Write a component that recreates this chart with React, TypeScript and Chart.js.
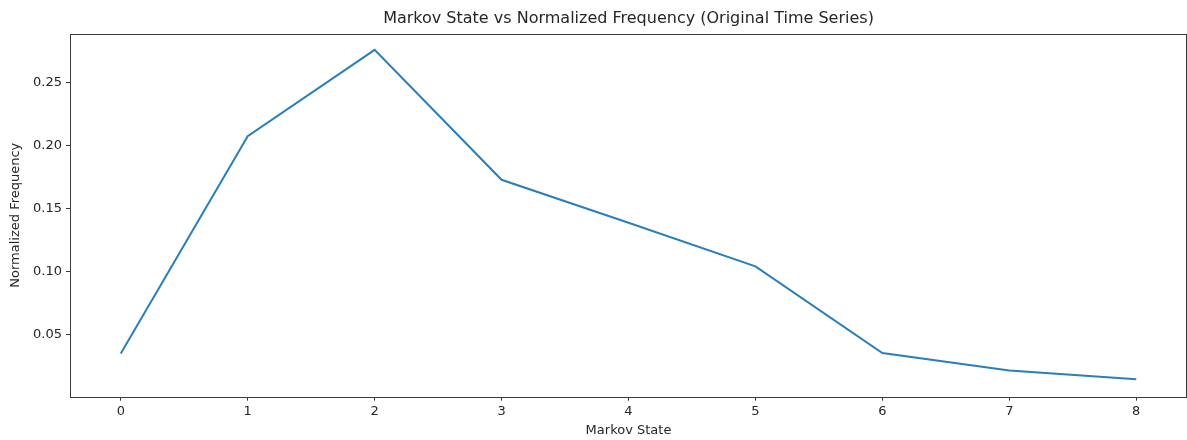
import React, { useEffect, useRef } from "react";
import { Chart, registerables } from "chart.js";

Chart.register(...registerables);

const states = [0, 1, 2, 3, 4, 5, 6, 7, 8];
const frequencies = [0.0347, 0.2075, 0.2761, 0.1728, 0.1386, 0.104, 0.035, 0.0212, 0.0141];
const xTicks = [0, 1, 2, 3, 4, 5, 6, 7, 8];
const yTicks = [0.05, 0.1, 0.15, 0.2, 0.25];

const FONT = "'DejaVu Sans', sans-serif";
const TEXT = "#262626";
const SPINE = "#3a3a3a";

const frame = {
  id: "frame",
  afterDraw(chart: any) {
    const { ctx, chartArea } = chart;
    const l = Math.round(chartArea.left) + 0.5;
    const t = Math.round(chartArea.top) + 0.5;
    const r = Math.round(chartArea.right) - 0.5;
    const b = Math.round(chartArea.bottom) + 0.5;
    ctx.save();
    ctx.strokeStyle = SPINE;
    ctx.lineWidth = 1;
    ctx.strokeRect(l, t, r - l, b - t);
    ctx.restore();
  },
};

export default function App() {
  const ref = useRef<HTMLCanvasElement>(null);
  useEffect(() => {
    if (!ref.current) return;
    const chart = new Chart(ref.current, {
      type: "line",
      data: {
        datasets: [
          {
            data: states.map((s, i) => ({ x: s, y: frequencies[i] })),
            borderColor: "#2a7fba",
            borderWidth: 2,
            pointRadius: 0,
            tension: 0,
            fill: false,
          },
        ],
      },
      options: {
        responsive: false,
        animation: false,
        layout: { padding: { left: 0, right: 0, top: 0, bottom: 0 } },
        plugins: {
          legend: { display: false },
          tooltip: { enabled: false },
          title: {
            display: true,
            text: "Markov State vs Normalized Frequency (Original Time Series)",
            fullSize: false,
            color: TEXT,
            font: { family: FONT, size: 16, weight: "normal" },
            padding: { top: 9, bottom: 5.5 },
          },
        },
        scales: {
          x: {
            type: "linear",
            min: -0.4,
            max: 8.4,
            afterBuildTicks: (scale: any) => {
              scale.ticks = xTicks.map((v) => ({ value: v }));
            },
            afterFit: (scale: any) => {
              scale.height = 43.3;
            },
            grid: { drawOnChartArea: false, tickLength: 4, tickColor: SPINE },
            border: { display: false },
            ticks: { color: TEXT, font: { family: FONT, size: 13 }, padding: 3, maxRotation: 0 },
            title: {
              display: true,
              text: "Markov State",
              color: TEXT,
              font: { family: FONT, size: 13 },
              padding: { top: 0, bottom: 2 },
            },
          },
          y: {
            type: "linear",
            min: 0.0003,
            max: 0.289,
            afterBuildTicks: (scale: any) => {
              scale.ticks = yTicks.map((v) => ({ value: v }));
            },
            afterFit: (scale: any) => {
              scale.width = 70;
            },
            grid: { drawOnChartArea: false, tickLength: 4, tickColor: SPINE },
            border: { display: false },
            ticks: {
              color: TEXT,
              font: { family: FONT, size: 13 },
              padding: 4,
              callback: (v: any) => Number(v).toFixed(2),
            },
            title: {
              display: true,
              text: "Normalized Frequency",
              color: TEXT,
              font: { family: FONT, size: 13 },
              padding: { top: 8, bottom: 0 },
            },
          },
        },
      },
      plugins: [frame],
    });
    return () => chart.destroy();
  }, []);
  return (
    <div style={{ position: "absolute", left: 0, top: 0, width: 1187, height: 440, background: "#fff" }}>
      <canvas ref={ref} width={1187} height={440} style={{ display: "block" }} />
    </div>
  );
}
